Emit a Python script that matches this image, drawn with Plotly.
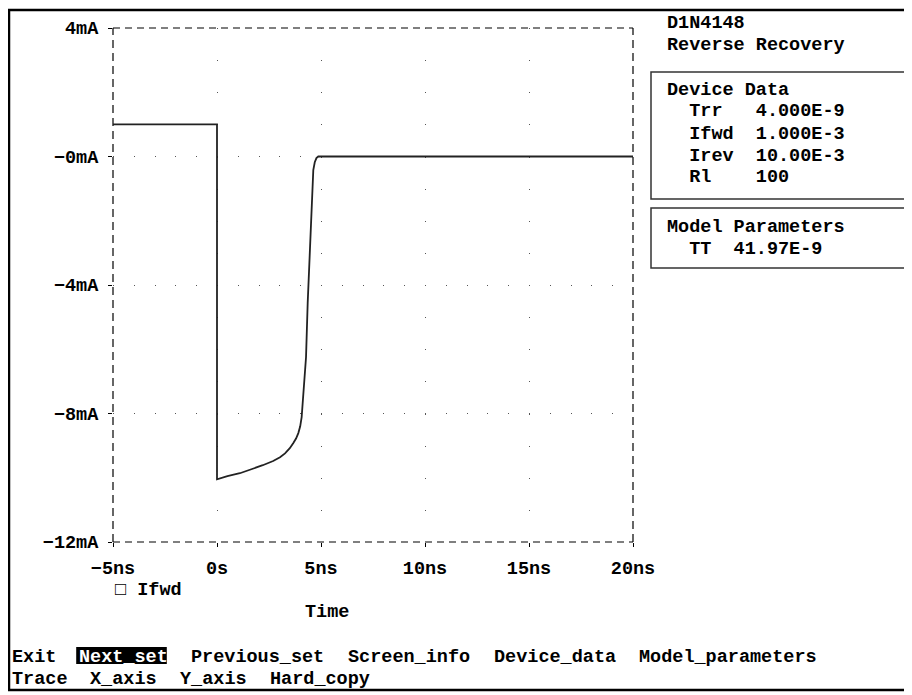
import plotly.graph_objects as go

# --- data (time in ns, current in mA) ---
time_ns = [-5, 0, 0, 0.5, 1.1, 1.6, 2.2, 2.7, 3.03, 3.27, 3.5, 3.67, 3.8, 3.91,
           4.0, 4.07, 4.18, 4.28, 4.36, 4.47, 4.55, 4.63, 4.7, 4.78, 4.87, 20]
current_ma = [1.0, 1.0, -10.05, -9.95, -9.86, -9.75, -9.61, -9.48, -9.36, -9.24,
              -9.08, -8.92, -8.78, -8.61, -8.4, -8.11, -7.18, -6.25, -4.56, -2.91,
              -1.36, -0.42, -0.18, -0.05, 0.0, 0.0]

x_tickvals = [-5, 0, 5, 10, 15, 20]
x_ticktext = ["−5ns", "0s", "5ns", "10ns", "15ns", "20ns"]
y_tickvals = [4, 0, -4, -8, -12]
y_ticktext = ["4mA", "−0mA", "−4mA", "−8mA", "−12mA"]

header_lines = ["D1N4148", "Reverse Recovery"]
device_lines = ["Device Data", "  Trr   4.000E-9", "  Ifwd  1.000E-3",
                "  Irev  10.00E-3", "  Rl    100"]
model_lines = ["Model Parameters", "  TT  41.97E-9"]
menu_row1 = ["Exit", "Next_set", "Previous_set", "Screen_info", "Device_data", "Model_parameters"]
menu_row2 = ["Trace", "X_axis", "Y_axis", "Hard_copy"]
trace_name = "Ifwd"

# the page body has an 8px margin, so the figure sits at (8, 8) in the window
OFF = 8
W, H = 904, 687
M = dict(l=105, r=279, t=20, b=153)
PW = W - M['l'] - M['r']
PH = H - M['t'] - M['b']
FONT = "Liberation Mono"
FS = 18.5
CW = 11.2  # character cell width


def fx(px):
    # window pixel -> paper coordinate
    return (px - OFF - M['l']) / PW


def fy(py):
    return (H - M['b'] - (py - OFF)) / PH


def txt(s, x, y, color="black", anchor="left"):
    return dict(text=s, x=fx(x), y=fy(y), xref="paper", yref="paper",
                xanchor=anchor, yanchor="middle", showarrow=False,
                font=dict(family=FONT, size=FS, color=color, weight="bold"))


fig = go.Figure()
fig.add_trace(go.Scatter(
    x=time_ns, y=current_ma, mode="lines", name=trace_name,
    line=dict(color="#222", width=1.8), showlegend=False,
))

shapes = []
# dashed plot frame
for x0, y0, x1, y1, d in [(0, 1, 1, 1, "7px,5px"), (0, 0, 1, 0, "7px,5px"),
                          (0, 0, 0, 1, "8px,5px"), (1, 0, 1, 1, "8px,5px")]:
    shapes.append(dict(type="line", xref="paper", yref="paper", x0=x0, y0=y0, x1=x1, y1=y1,
                       line=dict(color="black", width=1.2, dash=d), layer="below"))
# screen border
shapes.append(dict(type="rect", xref="paper", yref="paper", x0=fx(9), y0=fy(10), x1=fx(930), y1=fy(690),
                   line=dict(color="black", width=2.5)))
# info boxes
shapes.append(dict(type="rect", xref="paper", yref="paper", x0=fx(651), y0=fy(72), x1=fx(907), y1=fy(199),
                   line=dict(color="#333", width=1.5)))
shapes.append(dict(type="rect", xref="paper", yref="paper", x0=fx(651), y0=fy(208), x1=fx(907), y1=fy(268),
                   line=dict(color="#333", width=1.5)))

annotations = []
for i, s in enumerate(header_lines):
    annotations.append(txt(s, 665, 23 + 22 * i))
for i, s in enumerate(device_lines):
    annotations.append(txt(s, 665, 90 + 22 * i))
for i, s in enumerate(model_lines):
    annotations.append(txt(s, 665, 228 + 21 * i))

annotations.append(txt("□ " + trace_name, 113, 590))
annotations.append(txt("Time", 327, 612, anchor="center"))

# menu bar
col = 0
for item in menu_row1:
    x = 10 + col * CW
    if item == "Next_set":
        shapes.append(dict(type="rect", xref="paper", yref="paper", x0=fx(x - 1), x1=fx(x + len(item) * CW),
                           y0=fy(647), y1=fy(664), fillcolor="black", line=dict(width=0)))
        annotations.append(txt(item, x, 657, color="white"))
    else:
        annotations.append(txt(item, x, 657))
    col += len(item) + 2
col = 0
for item in menu_row2:
    annotations.append(txt(item, 10 + col * CW, 679))
    col += len(item) + 2

tickfont = dict(family=FONT, size=FS, color="black", weight="bold")
fig.update_layout(
    width=W, height=H,
    margin=M,
    paper_bgcolor="white", plot_bgcolor="white",
    shapes=shapes, annotations=annotations,
    xaxis=dict(
        range=[-5, 20], tickvals=x_tickvals, ticktext=x_ticktext,
        showgrid=False, zeroline=False, showline=False,
        ticks="outside", ticklen=4, tickcolor="black", tickwidth=1,
        tickfont=tickfont, ticklabelstandoff=5,
        minor=dict(tickvals=[0, 5, 10, 15], showgrid=True, gridcolor="#555",
                   gridwidth=1, griddash="1px,%.3fpx" % (PH / 16 - 1), ticks=""),
    ),
    yaxis=dict(
        range=[-12, 4], tickvals=y_tickvals, ticktext=y_ticktext,
        showgrid=False, zeroline=False, showline=False,
        ticks="outside", ticklen=4, tickcolor="black", tickwidth=1,
        tickfont=tickfont, ticklabelstandoff=6,
        minor=dict(tickvals=[0, -4, -8], showgrid=True, gridcolor="#555",
                   gridwidth=1, griddash="1px,%.3fpx" % (PW / 25 - 1), ticks=""),
    ),
)

fig.write_html("out.html")
